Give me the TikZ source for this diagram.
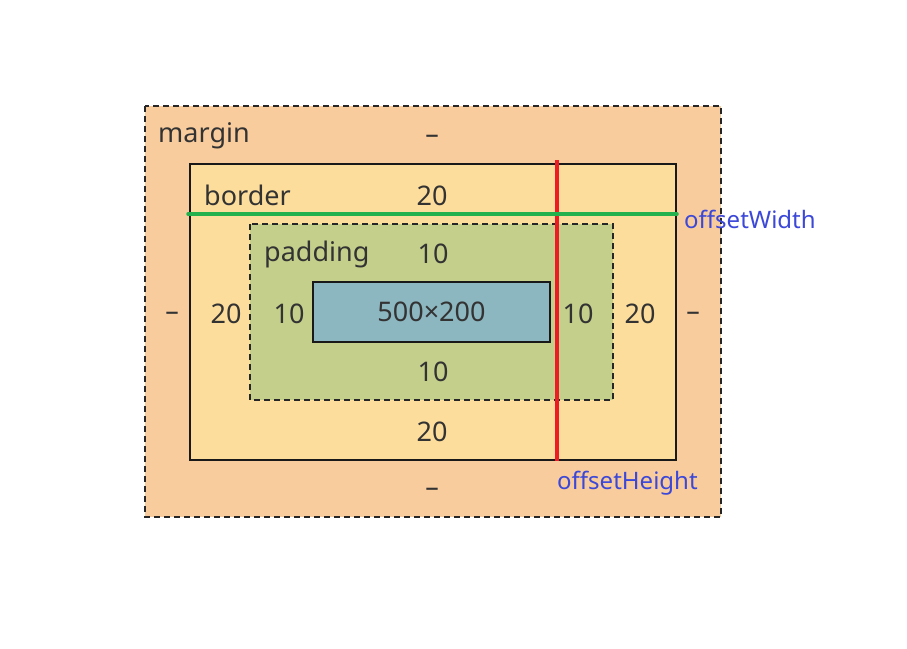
\documentclass[tikz,border=0pt]{standalone}
\usepackage{fontspec}
\setmainfont{Noto Sans}
\begin{document}
\begin{tikzpicture}[x=1pt,y=-1pt,
  lbl/.style={font=\fontsize{27}{30}\selectfont, text=black!80, inner sep=0pt},
  blue lbl/.style={font=\fontsize{24}{27}\selectfont, text=bluetxt, inner sep=0pt, anchor=west},
  dashbox/.style={draw=black!85, line width=1.5pt, dash pattern=on 6pt off 4pt},
  solidbox/.style={draw=black!90, line width=1.6pt}]
\definecolor{marginc}{HTML}{F9CC9D}
\definecolor{borderc}{HTML}{FDDD9B}
\definecolor{paddingc}{HTML}{C3CF8A}
\definecolor{contentc}{HTML}{8CB6C0}
\definecolor{bluetxt}{HTML}{3C48D8}
\definecolor{greenl}{HTML}{22B14C}
\definecolor{redl}{HTML}{ED1C24}
\useasboundingbox (0,0) rectangle (907,648);
\fill[white] (0,0) rectangle (907,648);
% boxes
\path[fill=marginc, dashbox] (145,106) rectangle (721,517);
\path[fill=borderc, solidbox] (190,164) rectangle (676,460);
\path[fill=paddingc, dashbox] (250,224) rectangle (613,400);
\node[fill=contentc, solidbox, minimum width=237pt, minimum height=60pt, inner sep=0pt,
  font=\fontsize{27}{30}\selectfont, text=black!80] (content) at (431.5,312) {500×200};
% labels
\node[lbl, anchor=west] (lmargin) at (158,136) {margin};
\node[lbl, anchor=west] (lborder) at (204,195) {border};
\node[lbl, anchor=west] (lpadding) at (264,254) {padding};
\node[lbl] (mt) at (432,139) {–};
\node[lbl] (bt) at (432,196) {20};
\node[lbl] (pt) at (433,254) {10};
\node[lbl] (ml) at (172,316) {–};
\node[lbl] (bl) at (226,314) {20};
\node[lbl] (pl) at (289,314) {10};
\node[lbl] (pr) at (578,314) {10};
\node[lbl] (br) at (640,314) {20};
\node[lbl] (mr) at (693,316) {–};
\node[lbl] (pb) at (433,372) {10};
\node[lbl] (bb) at (432,432) {20};
\node[lbl] (mb) at (432,492) {–};
% offset lines
\coordinate (g1) at (188,214);
\coordinate (g2) at (677,214);
\coordinate (r1) at (557,160);
\coordinate (r2) at (557,461);
\draw[redl, line width=3.5pt] (r1) -- (r2);
\draw[greenl, line width=3.5pt, line cap=round] (g1) -- (g2);
\node[blue lbl] (ow) at (684,219) {offsetWidth};
\node[blue lbl] (oh) at (557,483) {offsetHeight};
\end{tikzpicture}
\end{document}
